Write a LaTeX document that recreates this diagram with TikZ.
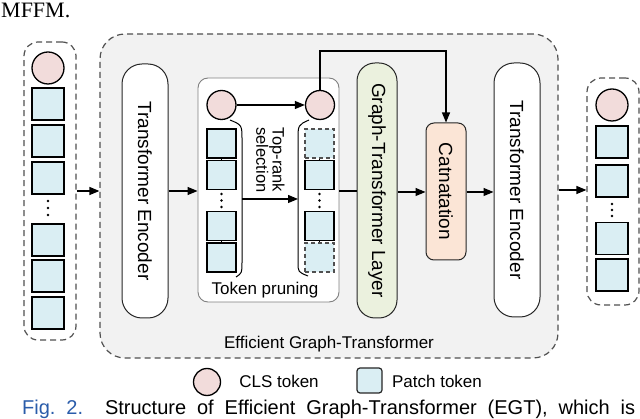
\documentclass[tikz,border=0pt]{standalone}
\usepackage{fontspec}
\setmainfont{Liberation Sans}
\newfontfamily\seriffont{Liberation Serif}
\usetikzlibrary{arrows.meta,calc}
\definecolor{egtgray}{HTML}{F2F2F2}
\definecolor{clsfill}{HTML}{F2DCDB}
\definecolor{patchfill}{HTML}{DAEEF3}
\definecolor{gtfill}{HTML}{EBF1DE}
\definecolor{catfill}{HTML}{FBE5D6}
\definecolor{dashgray}{HTML}{505050}
\definecolor{figblue}{HTML}{2A5CAA}
\newcommand{\fs}[1]{\fontsize{#1}{#1}\selectfont}
\tikzset{
  cls/.style={circle, draw=black, line width=1.3pt, fill=clsfill, minimum size=#1, inner sep=0pt},
  patch/.style={draw=black, line width=1.3pt, fill=patchfill, minimum width=#1, minimum height=#1, inner sep=0pt},
  dpatch/.style={draw=dashgray, line width=1.2pt, dash pattern=on 4pt off 3pt, fill=patchfill, minimum width=#1, minimum height=#1, inner sep=0pt},
  dbox/.style={draw=dashgray, line width=1.2pt, dash pattern=on 6pt off 4pt},
  module/.style={draw=black!85, line width=1pt, rounded corners=#1, inner sep=0pt},
  arr/.style={line width=1.2pt, -{Triangle[length=10pt,width=8pt]}},
  plain/.style={line width=1.2pt},
  dotf/.style={fill=black},
}
\begin{document}
\begin{tikzpicture}[x=1pt,y=-1pt]
\useasboundingbox (0,0) rectangle (640,419);
\clip (0,0) rectangle (640,419);
% top text fragment
\node[anchor=base west, inner sep=0pt] (mffm) at (1,18) {\seriffont\fs{22}MFFM.};
% EGT background box
\node[dbox, fill=egtgray, rounded corners=25pt, minimum width=458pt, minimum height=324pt, inner sep=0pt] (egt) at (329,196) {};
\node (egtlab) at (329,344) {\fs{17}Efficient Graph-Transformer};
% input column
\node[dbox, rounded corners=14pt, minimum width=52pt, minimum height=298pt, inner sep=0pt] (incol) at (50,191) {};
\node[cls=32pt] (ic) at (48,68) {};
\node[patch=32pt] (ip1) at (48,104) {};
\node[patch=32pt] (ip2) at (48,141) {};
\node[patch=32pt] (ip3) at (48,178) {};
\node[patch=32pt] (ip4) at (48,240) {};
\node[patch=32pt] (ip5) at (48,276) {};
\node[patch=32pt] (ip6) at (48,313) {};
\foreach \yy in {201,208,215} \fill[dotf] (48,\yy) circle (1.4pt);
% output column
\node[dbox, rounded corners=14pt, minimum width=52pt, minimum height=227pt, inner sep=0pt] (outcol) at (613,191.5) {};
\node[cls=32pt] (oc) at (612,105) {};
\node[patch=32pt] (op1) at (612,142) {};
\node[patch=32pt] (op2) at (612,181) {};
\node[patch=32pt] (op3) at (612,238.5) {};
\node[patch=32pt] (op4) at (612,275) {};
\foreach \yy in {204,210,216} \fill[dotf] (612,\yy) circle (1.4pt);
% transformer encoder 1
\node[module=20pt, fill=white, minimum width=46pt, minimum height=254pt] (te1) at (145,191) {\rotatebox[origin=c]{-90}{\fs{19}Transformer Encoder}};
% token pruning
\node[draw=black!50, line width=0.9pt, rounded corners=10pt, fill=white, minimum width=141pt, minimum height=224pt, inner sep=0pt] (prune) at (268.5,190) {};
\node (prunelab) at (265,290) {\fs{17}Token pruning};
\node[cls=29pt] (pc1) at (221.5,105) {};
\node[cls=29pt] (pc2) at (320,105) {};
\node[patch=29pt] (pl1) at (221.5,143.5) {};
\node[patch=29pt] (pl2) at (221.5,175) {};
\node[patch=29pt] (pl3) at (221.5,226) {};
\node[patch=29pt] (pl4) at (221.5,257.5) {};
\draw[line width=1.2pt] (pl1.south) -- (pl2.north);
\draw[line width=1.2pt] (pl3.south) -- (pl4.north);
\foreach \yy in {194,200.5,207} \fill[dotf] (221.5,\yy) circle (1.3pt);
\node[dpatch=29pt] (pr1) at (319.5,143.5) {};
\node[patch=29pt] (pr2) at (319.5,175) {};
\node[patch=29pt] (pr3) at (319.5,226) {};
\node[dpatch=29pt] (pr4) at (319.5,257.5) {};
\draw[line width=1.2pt] (pr1.south) -- (pr2.north);
\draw[line width=1.2pt] (pr3.south) -- (pr4.north);
\foreach \yy in {194,200.5,207} \fill[dotf] (319.5,\yy) circle (1.3pt);
% brackets
\coordinate (lbr) at (242,199);
\coordinate (rbr) at (298,199);
\draw[line width=1pt] (230,120) .. controls (242,125) .. (242,140) -- (242,262) .. controls (242,273) .. (236,277);
\draw[line width=1pt] (309,120) .. controls (298,125) .. (298,140) -- (298,262) .. controls (298,272) .. (308,276);
\draw[arr] (lbr) -- (rbr);
\node (toprank) at (268,160) {\rotatebox[origin=c]{-90}{\fs{16.5}\begin{tabular}{@{}c@{}}Top-rank\\[-0.5pt]selection\end{tabular}}};
\draw[arr] (pc1) -- (pc2);
% graph-transformer layer
\node[module=18pt, fill=gtfill, minimum width=40pt, minimum height=255pt] (gt) at (377,190.5) {\rotatebox[origin=c]{-90}{\fs{19}Graph-Transformer Layer}};
% catnatation
\node[module=8pt, fill=catfill, minimum width=40pt, minimum height=137pt] (cat) at (446,191.5) {\rotatebox[origin=c]{-90}{\fs{19}Catnatation}};
% transformer encoder 2
\node[module=20pt, fill=white, minimum width=46pt, minimum height=254pt] (te2) at (517,190) {\rotatebox[origin=c]{-90}{\fs{19}Transformer Encoder}};
% connectors
\draw[arr] (incol.east) -- (incol.east -| egt.west);
\draw[arr] (te1.east) -- (te1.east -| prune.west);
\draw[plain] (prune.east |- 0,191) -- (gt.west |- 0,191);
\draw[arr] (gt.east |- 0,192) -- (cat.west |- 0,192);
\draw[arr] (cat.east |- 0,192) -- (te2.west |- 0,192);
\draw[arr] (egt.east |- 0,190) -- (outcol.west |- 0,190);
\coordinate (topc) at (320,51);
\draw[arr] (pc2.north) -- (topc) -| (cat.north);
% legend
\node[cls=27pt] (legc) at (207,382) {};
\node (legct) at (279,381) {\fs{17}CLS token};
\node[draw=black!85, line width=1.2pt, fill=patchfill, rounded corners=3pt, minimum width=25pt, minimum height=25pt, inner sep=0pt] (legp) at (369.5,380.5) {};
\node (legpt) at (437,381) {\fs{17}Patch token};
% caption fragment
\node[anchor=base west, inner sep=0pt] (cap) at (22,414.5) {\fs{20}\makebox[613pt][s]{{\color{figblue}Fig.~2.}\ \ Structure of Efficient Graph-Transformer (EGT), which is}};
\end{tikzpicture}
\end{document}
